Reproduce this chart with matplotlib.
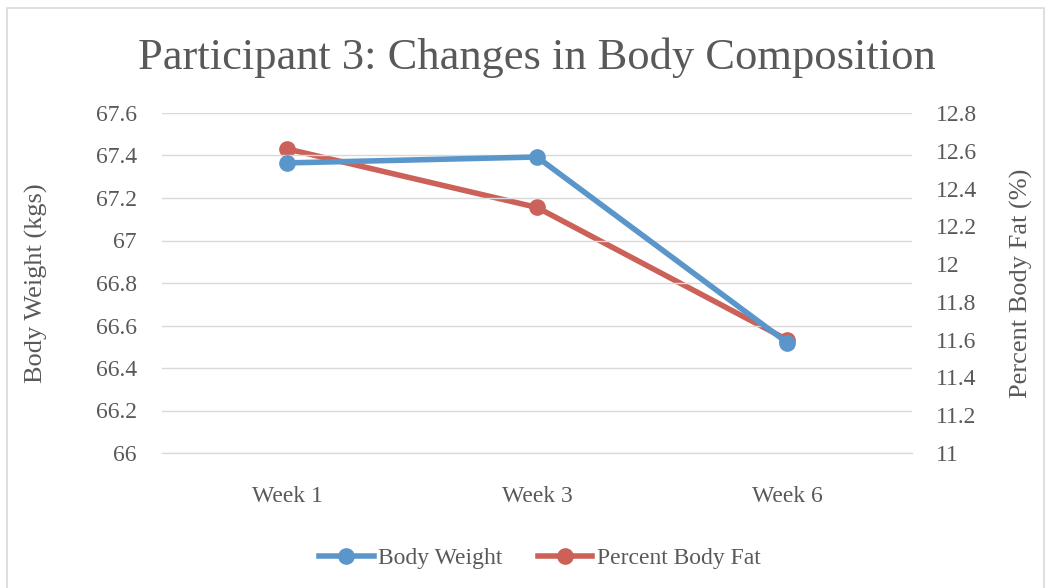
import matplotlib
matplotlib.use("Agg")
import matplotlib.pyplot as plt
from matplotlib.patches import Rectangle
from matplotlib.lines import Line2D

weeks = ["Week 1", "Week 3", "Week 6"]
body_weight = [67.365, 67.393, 66.52]
body_fat = [12.61, 12.30, 11.60]

left_ticks = [66, 66.2, 66.4, 66.6, 66.8, 67, 67.2, 67.4, 67.6]
right_ticks = [11, 11.2, 11.4, 11.6, 11.8, 12, 12.2, 12.4, 12.6, 12.8]

def fmt(v):
    s = f"{v:.1f}"
    return s[:-2] if s.endswith(".0") else s

plt.rcParams['font.family'] = ['Liberation Serif', 'DejaVu Serif']
txt = '#595959'
blue = '#5B96CB'
red = '#CC6159'

fig = plt.figure(figsize=(10.51, 5.88), dpi=100)
fig.patches.append(Rectangle((7/1051, -0.01), 1037/1051, 1 - 8/588 + 0.01,
                             transform=fig.transFigure, fill=False,
                             edgecolor='#D9D9D9', linewidth=1.2))
ax = fig.add_axes([162/1051, 1 - 453/588, 750/1051, 340/588])
ax2 = ax.twinx()
x = list(range(len(weeks)))

ax.set_ylim(66, 67.6)
ax.set_yticks(left_ticks)
ax.set_yticklabels([fmt(v) for v in left_ticks])
ax2.set_ylim(11, 12.8)
ax2.set_yticks(right_ticks)
ax2.set_yticklabels([fmt(v) for v in right_ticks])
ax.set_xlim(-0.5, 2.5)
ax.set_xticks(x)
ax.set_xticklabels(weeks)

ax.grid(axis='y', color='#D9D9D9', linewidth=1)
ax.set_axisbelow(True)
for a in (ax, ax2):
    for s in ('top', 'left', 'right'):
        a.spines[s].set_visible(False)
    a.spines['bottom'].set_color('#D9D9D9')
    a.tick_params(length=0, labelsize=17, colors=txt)
ax.tick_params(axis='y', pad=18)
ax2.tick_params(axis='y', pad=17)
ax.tick_params(axis='x', pad=24)
for lab in ax2.get_yticklabels():
    lab.set_horizontalalignment('left')

ax2.plot(x, body_fat, color=red, linewidth=4, marker='o', markersize=11, zorder=3)
ax.plot(x, body_weight, color=blue, linewidth=4, marker='o', markersize=11, zorder=3)
ax.set_zorder(ax2.get_zorder() + 1)
ax.patch.set_visible(False)

ax.set_ylabel("Body Weight (kgs)", fontsize=19, color=txt)
ax2.set_ylabel("Percent Body Fat (%)", fontsize=19, color=txt)
ax.yaxis.set_label_coords((48 - 162) / 750, 0.5)
ax2.yaxis.set_label_coords((1010 - 162) / 750, 0.5)

fig.text(537/1051, 1 - 58/588, "Participant 3: Changes in Body Composition",
         ha='center', va='center', fontsize=32, color=txt)

handles = [Line2D([], [], color=blue, linewidth=4, marker='o', markersize=11),
           Line2D([], [], color=red, linewidth=4, marker='o', markersize=11)]
fig.legend(handles, ["Body Weight", "Percent Body Fat"], loc='center',
           bbox_to_anchor=(540/1051, 1 - 558/588), ncol=2, frameon=False,
           fontsize=17, labelcolor=txt, handlelength=2.3, handletextpad=0.2,
           columnspacing=1.5)

fig.savefig("out.png", dpi=100)
